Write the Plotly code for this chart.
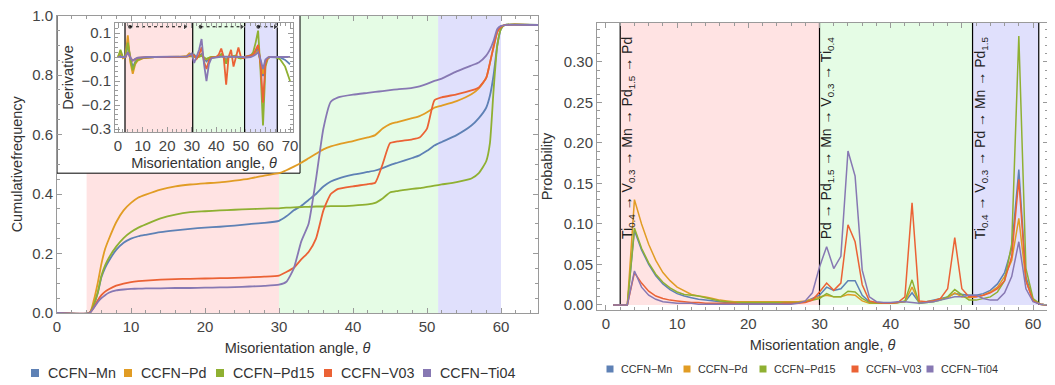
import plotly.graph_objects as go

FONT = "Liberation Sans, Arial, sans-serif"
# The page places the figure 8 px from the window's top-left corner,
# so the figure is sized to fill the rest of the 1055x385 window.
OFF = 8
WIN_W, WIN_H = 1055, 385
W, H = WIN_W - OFF, WIN_H - OFF

series_names = ["CCFN−Mn", "CCFN−Pd", "CCFN−Pd15", "CCFN−V03", "CCFN−Ti04"]
series_colors = ["#5E81B5", "#E19C24", "#8FB032", "#EB6235", "#8778B3"]

# ---------------- left panel: cumulative frequency ----------------
cum_theta = [0, 4.4, 5, 5.5, 6, 6.5, 7, 8, 9, 10, 11, 12, 14, 16, 18, 20, 22, 24, 26, 28,
             30, 31, 32, 33, 34, 35, 36, 37, 38, 40, 42, 43, 44, 45, 46, 48, 49, 50, 51, 52,
             54, 56, 57, 58, 58.5, 59, 59.5, 60, 60.5, 65]
cum_mn = [0, 0, 0.03, 0.066, 0.12, 0.152, 0.175, 0.212, 0.236, 0.25, 0.258, 0.263, 0.272, 0.278, 0.283, 0.287, 0.29, 0.294, 0.299, 0.303,
          0.31, 0.325, 0.345, 0.36, 0.38, 0.4, 0.425, 0.442, 0.452, 0.465, 0.474, 0.479, 0.487, 0.497, 0.505, 0.521, 0.53, 0.545, 0.563, 0.575,
          0.598, 0.63, 0.655, 0.69, 0.73, 0.8, 0.9, 0.955, 0.968, 0.968]
cum_pd = [0, 0, 0.045, 0.10, 0.165, 0.215, 0.248, 0.305, 0.345, 0.37, 0.388, 0.398, 0.415, 0.426, 0.432, 0.436, 0.439, 0.445, 0.452, 0.462,
          0.47, 0.48, 0.492, 0.505, 0.52, 0.535, 0.55, 0.56, 0.567, 0.578, 0.59, 0.598, 0.62, 0.635, 0.642, 0.655, 0.662, 0.675, 0.69, 0.697,
          0.712, 0.735, 0.755, 0.79, 0.84, 0.895, 0.945, 0.962, 0.968, 0.968]
cum_pd15 = [0, 0, 0.03, 0.068, 0.125, 0.16, 0.185, 0.223, 0.252, 0.272, 0.287, 0.298, 0.318, 0.331, 0.339, 0.342, 0.345, 0.347, 0.349, 0.351,
            0.352, 0.354, 0.355, 0.356, 0.357, 0.358, 0.358, 0.359, 0.359, 0.361, 0.365, 0.37, 0.385, 0.405, 0.41, 0.417, 0.42, 0.424, 0.428, 0.432,
            0.44, 0.452, 0.47, 0.51, 0.57, 0.75, 0.9, 0.955, 0.968, 0.968]
cum_v03 = [0, 0, 0.02, 0.042, 0.06, 0.072, 0.08, 0.092, 0.099, 0.104, 0.107, 0.109, 0.112, 0.114, 0.115, 0.116, 0.117, 0.118, 0.12, 0.122,
           0.126, 0.138, 0.152, 0.18, 0.205, 0.25, 0.345, 0.4, 0.417, 0.426, 0.433, 0.438, 0.5, 0.571, 0.577, 0.584, 0.59, 0.62, 0.715, 0.725,
           0.735, 0.748, 0.758, 0.79, 0.84, 0.895, 0.945, 0.962, 0.968, 0.968]
cum_ti04 = [0, 0, 0.018, 0.036, 0.05, 0.06, 0.068, 0.076, 0.079, 0.081, 0.082, 0.083, 0.083, 0.084, 0.084, 0.085, 0.086, 0.087, 0.089, 0.091,
            0.095, 0.105, 0.15, 0.24, 0.3, 0.45, 0.62, 0.71, 0.725, 0.734, 0.74, 0.743, 0.746, 0.749, 0.752, 0.757, 0.762, 0.77, 0.78, 0.788,
            0.812, 0.832, 0.842, 0.865, 0.885, 0.915, 0.955, 0.965, 0.968, 0.968]
cum_series = [cum_mn, cum_pd, cum_pd15, cum_v03, cum_ti04]

# ---------------- inset: derivative ----------------
der_theta = [0, 1, 2, 3, 4, 5, 6, 7, 8, 10, 12, 15, 20, 25, 28, 29, 30, 31, 32, 33, 34, 35, 36, 37, 38,
             40, 41, 42, 43, 44, 45, 46, 47, 48, 49, 50, 51, 52, 53, 54, 55, 56, 57, 58, 59, 60, 61, 62,
             64, 66, 68, 70]
der_mn = [0, 0.01, 0, 0, 0.05, -0.005, -0.045, -0.02, -0.01, -0.004, -0.001, 0, 0, 0,
          0.002, 0.004, 0.008, 0.01, -0.004, 0.003, 0.012, -0.005, -0.018, -0.008, -0.002,
          0, 0, 0.01, 0.0, -0.012, 0.001, 0.002, 0.002, 0.003, 0.0, -0.002, 0, 0.002, 0.003, 0.006, 0.01, 0.02, 0.04, -0.02, -0.08, -0.015, -0.003, 0,
          0, -0.002, -0.012, -0.03]
der_pd = [0, 0.02, -0.005, 0, 0.09, -0.02, -0.07, -0.03, -0.015, -0.006, -0.002, 0, 0, 0.001,
          0.005, 0.015, 0.01, 0.0, -0.003, 0.002, 0.006, -0.003, -0.01, -0.003, 0,
          0, 0.001, 0.01, 0.0, -0.02, 0.0, 0.003, 0.003, 0.005, -0.003, -0.004, 0, 0.002, 0.004, 0.006, 0.008, 0.015, 0.025, -0.02, -0.07, -0.02, -0.005, 0,
          0, 0, 0, 0]
der_pd15 = [0, 0.03, 0, 0, 0.06, -0.008, -0.055, -0.025, -0.012, -0.005, -0.002, 0, 0, 0,
            0.002, 0.004, 0.004, 0.003, -0.003, 0.002, 0.006, -0.002, -0.008, -0.003, 0,
            0, 0.002, 0.012, 0.0, -0.028, 0.001, 0.002, 0.004, 0.006, -0.004, -0.006, -0.002, 0.002, 0.003, 0.006, 0.02, 0.06, 0.11, -0.06, -0.285, -0.04, -0.005, 0,
            0, -0.01, -0.04, -0.1]
der_v03 = [0, 0, 0, 0, 0.02, -0.003, -0.015, -0.008, -0.004, -0.002, 0, 0, 0, 0,
           0.002, 0.005, 0.01, 0.006, -0.008, 0.01, 0.04, -0.02, -0.05, -0.015, -0.002,
           0.0, 0.01, 0.035, 0.0, -0.115, 0.0, 0.03, -0.04, 0.0, 0.04, 0.0, -0.005, 0.0, 0.003, 0.005, 0.01, 0.03, 0.05, -0.03, -0.19, -0.025, -0.003, 0,
           0, 0, 0, 0]
der_ti04 = [0, 0, 0, 0, 0.02, -0.004, -0.015, -0.007, -0.003, 0, 0, 0, 0, 0,
            0.003, 0.008, 0.015, -0.025, 0.0, 0.03, 0.075, -0.03, -0.1, -0.03, -0.005,
            0, 0, 0.001, 0, -0.001, 0.001, 0.001, 0.001, 0.001, 0.002, 0.002, 0, -0.002, -0.002, 0, 0.004, 0.01, 0.02, -0.01, -0.05, -0.01, -0.002, 0,
            0, 0, 0, 0]
der_series = [der_mn, der_pd, der_pd15, der_v03, der_ti04]

# trend arrows in inset (start dot -> arrow end)
arrow_start = [4.9, 33.6, 57.1]
arrow_end = [27.3, 50.3, 63.9]
arrow_level = 0.126

# ---------------- right panel: probability ----------------
prob_theta = [1, 2, 3, 4, 5, 6, 7, 8, 9, 10, 11, 12, 13, 14, 15, 16, 17, 18, 19, 20,
              21, 22, 23, 24, 25, 26, 27, 28, 29, 30, 31, 32, 33, 34, 35, 36, 37, 38, 39, 40,
              41, 42, 43, 44, 45, 46, 47, 48, 49, 50, 51, 52, 53, 54, 55, 56, 57, 58, 59, 60, 61, 62]
prob_mn = [0, 0, 0, 0.092, 0.068, 0.05, 0.036, 0.026, 0.019, 0.014, 0.011, 0.009, 0.007, 0.006, 0.005, 0.004, 0.003, 0.003, 0.002, 0.002,
           0.002, 0.002, 0.002, 0.002, 0.002, 0.002, 0.003, 0.004, 0.008, 0.012,
           0.022, 0.018, 0.02, 0.03, 0.03, 0.012, 0.004, 0.002, 0.002, 0.002, 0.003, 0.004, 0.015, 0.003, 0.004, 0.006, 0.008, 0.01, 0.014, 0.013,
           0.012, 0.012, 0.014, 0.018, 0.026, 0.04, 0.07, 0.167, 0.035, 0.006, 0.001, 0]
prob_pd = [0, 0, 0, 0.13, 0.10, 0.075, 0.055, 0.04, 0.03, 0.022, 0.017, 0.013, 0.011, 0.01, 0.008, 0.006, 0.005, 0.004, 0.004, 0.004,
           0.004, 0.004, 0.004, 0.004, 0.004, 0.004, 0.004, 0.005, 0.007, 0.01,
           0.012, 0.01, 0.01, 0.013, 0.012, 0.005, 0.002, 0.002, 0.002, 0.002, 0.003, 0.004, 0.022, 0.003, 0.004, 0.005, 0.007, 0.009, 0.015, 0.01,
           0.009, 0.01, 0.012, 0.016, 0.022, 0.035, 0.055, 0.107, 0.03, 0.006, 0.001, 0]
prob_pd15 = [0, 0, 0, 0.095, 0.07, 0.052, 0.038, 0.028, 0.021, 0.016, 0.013, 0.012, 0.011, 0.009, 0.007, 0.005, 0.004, 0.003, 0.003, 0.003,
             0.003, 0.003, 0.003, 0.003, 0.003, 0.003, 0.003, 0.004, 0.006, 0.008,
             0.014, 0.01, 0.01, 0.017, 0.016, 0.008, 0.003, 0.002, 0.002, 0.002, 0.003, 0.005, 0.031, 0.002, 0.003, 0.004, 0.006, 0.01, 0.019, 0.012,
             0.006, 0.006, 0.008, 0.01, 0.016, 0.03, 0.075, 0.332, 0.045, 0.008, 0.001, 0]
prob_v03 = [0, 0, 0, 0.04, 0.027, 0.017, 0.011, 0.008, 0.006, 0.005, 0.004, 0.003, 0.003, 0.002, 0.002, 0.002, 0.002, 0.002, 0.001, 0.001,
            0.001, 0.001, 0.001, 0.001, 0.002, 0.002, 0.002, 0.003, 0.006, 0.016,
            0.027, 0.018, 0.027, 0.099, 0.078, 0.025, 0.005, 0.003, 0.002, 0.002, 0.003, 0.01, 0.126, 0.005, 0.004, 0.005, 0.008, 0.02, 0.083, 0.02,
            0.01, 0.01, 0.012, 0.015, 0.02, 0.03, 0.06, 0.155, 0.03, 0.005, 0.001, 0]
prob_ti04 = [0, 0, 0, 0.042, 0.022, 0.012, 0.007, 0.004, 0.003, 0.002, 0.002, 0.002, 0.001, 0.001, 0.001, 0.001, 0.001, 0.001, 0.001, 0.001,
             0.001, 0.001, 0.001, 0.001, 0.001, 0.001, 0.002, 0.005, 0.015, 0.047,
             0.072, 0.045, 0.06, 0.19, 0.159, 0.043, 0.01, 0.004, 0.003, 0.003, 0.004, 0.004, 0.003, 0.002, 0.003, 0.004, 0.006, 0.008, 0.01, 0.01,
             0.012, 0.012, 0.008, 0.006, 0.006, 0.015, 0.035, 0.078, 0.02, 0.004, 0.001, 0]
prob_series = [prob_mn, prob_pd, prob_pd15, prob_v03, prob_ti04]

# region boundaries and sequence labels
cum_bounds = [4.0, 30.0, 51.5, 60.0]
der_bounds = [2.85, 30.4, 51.5, 64.8]
prob_bounds = [2.0, 30.0, 51.5, 60.8]
region_fills = ["rgba(255,0,0,0.11)", "rgba(0,230,0,0.10)", "rgba(0,0,230,0.12)"]
seq_labels = ["Ti<sub>0.4</sub> → V<sub>0.3</sub> → Mn → Pd<sub>1.5</sub> → Pd",
              "Pd → Pd<sub>1.5</sub> → Mn → V<sub>0.3</sub> → Ti<sub>0.4</sub>",
              "Ti<sub>0.4</sub> → V<sub>0.3</sub> → Pd → Mn → Pd<sub>1.5</sub>"]
seq_label_x = [3.1, 31.1, 52.8]
seq_label_base = 0.079


# window pixel positions -> paper fractions
def px_x(a, b):
    return [(a - OFF) / W, (b - OFF) / W]


def px_y(top, bottom):
    return [(WIN_H - bottom) / H, (WIN_H - top) / H]


def fx(a):
    return (a - OFF) / W


def fy(yy):
    return (WIN_H - yy) / H


fig = go.Figure()

for name, col, vals in zip(series_names, series_colors, cum_series):
    fig.add_trace(go.Scatter(x=cum_theta, y=vals, mode="lines", name=name, showlegend=False,
                             line=dict(color=col, width=1.8, shape="spline", smoothing=0.5),
                             xaxis="x", yaxis="y", hoverinfo="skip"))
for name, col, vals in zip(series_names, series_colors, prob_series):
    fig.add_trace(go.Scatter(x=prob_theta, y=vals, mode="lines", name=name, showlegend=False,
                             line=dict(color=col, width=1.5), xaxis="x2", yaxis="y2", hoverinfo="skip"))
for name, col, vals in zip(series_names, series_colors, der_series):
    fig.add_trace(go.Scatter(x=der_theta, y=vals, mode="lines", name=name, showlegend=False,
                             line=dict(color=col, width=1.8), xaxis="x3", yaxis="y3", hoverinfo="skip"))

ax_, ay_, syms = [], [], []
for s, e in zip(arrow_start, arrow_end):
    ax_ += [s, e, None]
    ay_ += [arrow_level, arrow_level, None]
    syms += ["circle", "triangle-right", "circle"]
fig.add_trace(go.Scatter(x=ax_, y=ay_, mode="lines+markers", showlegend=False, hoverinfo="skip",
                         line=dict(color="black", width=1, dash="dot"),
                         marker=dict(symbol=syms, size=[5, 6, 0] * 3, color="black"),
                         xaxis="x3", yaxis="y3"))

shapes = []
# left main bands
for i, f in enumerate(region_fills):
    shapes.append(dict(type="rect", xref="x", yref="y", x0=cum_bounds[i], x1=cum_bounds[i + 1], y0=0, y1=1,
                       fillcolor=f, line=dict(width=0), layer="below"))
# inset white box (covers the bands under it)
shapes.append(dict(type="rect", xref="x", yref="y", x0=0, x1=32.84, y0=0.47, y1=1.0,
                   fillcolor="white", line=dict(color="black", width=1), layer="below"))
# inset bands + separators
for i, f in enumerate(region_fills):
    shapes.append(dict(type="rect", xref="x3", yref="y3", x0=der_bounds[i], x1=der_bounds[i + 1], y0=-0.32, y1=0.15,
                       fillcolor=f, line=dict(width=0), layer="below"))
for b in der_bounds:
    shapes.append(dict(type="line", xref="x3", yref="y3", x0=b, x1=b, y0=-0.32, y1=0.15,
                       line=dict(color="black", width=1.2), layer="below"))
# right bands + separators
for i, f in enumerate(region_fills):
    shapes.append(dict(type="rect", xref="x2", yref="y2", x0=prob_bounds[i], x1=prob_bounds[i + 1], y0=0, y1=0.36,
                       fillcolor=f, line=dict(width=0), layer="below"))
for b in prob_bounds:
    shapes.append(dict(type="line", xref="x2", yref="y2", x0=b, x1=b, y0=0, y1=0.36,
                       line=dict(color="black", width=1.2), layer="below"))

annotations = []
for txt, xx in zip(seq_labels, seq_label_x):
    annotations.append(dict(text=txt, x=xx, y=seq_label_base, xref="x2", yref="y2", textangle=-90,
                            xanchor="center", yanchor="bottom", showarrow=False,
                            font=dict(family=FONT, size=14, color="#222")))

# legends (square swatch + label) below each panel
left_leg_x = [35, 128, 220, 328, 427]
left_leg_y = 373
right_leg_x = [610, 687, 763, 855, 930]
right_leg_y = 369
for name, col, lx in zip(series_names, series_colors, left_leg_x):
    shapes.append(dict(type="rect", xref="paper", yref="paper", x0=fx(lx - 4), x1=fx(lx + 4),
                       y0=fy(left_leg_y + 4), y1=fy(left_leg_y - 4),
                       fillcolor=col, line=dict(width=0)))
    annotations.append(dict(text=name, x=fx(lx + 11), y=fy(left_leg_y), xref="paper", yref="paper",
                            xanchor="left", yanchor="middle", showarrow=False,
                            font=dict(family=FONT, size=14.3, color="#333")))
for name, col, lx in zip(series_names, series_colors, right_leg_x):
    shapes.append(dict(type="rect", xref="paper", yref="paper", x0=fx(lx - 3.5), x1=fx(lx + 3.5),
                       y0=fy(right_leg_y + 3.5), y1=fy(right_leg_y - 3.5),
                       fillcolor=col, line=dict(width=0)))
    annotations.append(dict(text=name, x=fx(lx + 9), y=fy(right_leg_y), xref="paper", yref="paper",
                            xanchor="left", yanchor="middle", showarrow=False,
                            font=dict(family=FONT, size=10.8, color="#333")))

AXC = "#9a9a9a"


def frame_axis(rng, dtick, minor_dtick, domain, anchor, size=15, fmt=None, title=None, standoff=6, tick0=None):
    d = dict(range=rng, dtick=dtick, domain=domain, anchor=anchor, showline=True, linecolor=AXC, linewidth=1,
             mirror="ticks", ticks="inside", ticklen=5, tickcolor=AXC, showgrid=False, zeroline=False,
             automargin=False, ticklabeloverflow="allow",
             tickfont=dict(family=FONT, size=size, color="#444"),
             minor=dict(ticks="inside", ticklen=3, tickcolor=AXC, dtick=minor_dtick, showgrid=False))
    if tick0 is not None:
        d["tick0"] = tick0
        d["minor"]["tick0"] = tick0
    if fmt:
        d["tickformat"] = fmt
    if title:
        d["title"] = dict(text=title, standoff=standoff, font=dict(family=FONT, size=size - 0.5, color="#333"))
    return d


fig.update_layout(
    width=W, height=H, margin=dict(l=0, r=0, t=0, b=0, pad=0, autoexpand=False),
    plot_bgcolor="white", paper_bgcolor="white",
    font=dict(family=FONT, color="#333"),
    showlegend=False,
    xaxis=frame_axis([0, 65], 10, 2, px_x(57, 538), "y", title="Misorientation angle, <i>θ</i>", standoff=8),
    yaxis=frame_axis([0, 1.0], 0.2, 0.05, px_y(15.5, 313), "x", fmt=".1f", title="Cumulativefrequency", standoff=6),
    xaxis2=frame_axis([-1.26, 62.1], 10, 2, px_x(597, 1048), "y2", title="Misorientation angle, <i>θ</i>", standoff=8),
    yaxis2=frame_axis([-0.0062, 0.348], 0.05, 0.01, px_y(23, 310), "x2", fmt=".2f", title="Probability", standoff=7, tick0=0),
    xaxis3=frame_axis([-1.22, 71.2], 10, 2, px_x(115, 293), "y3", title="Misorientation angle, <i>θ</i>", standoff=4),
    yaxis3=frame_axis([-0.3125, 0.1417], 0.1, 0.02, px_y(23, 132), "x3", fmt=".1f", title="Derivative", standoff=4, tick0=0),
    shapes=shapes,
    annotations=annotations,
)

fig.write_html("out.html")
